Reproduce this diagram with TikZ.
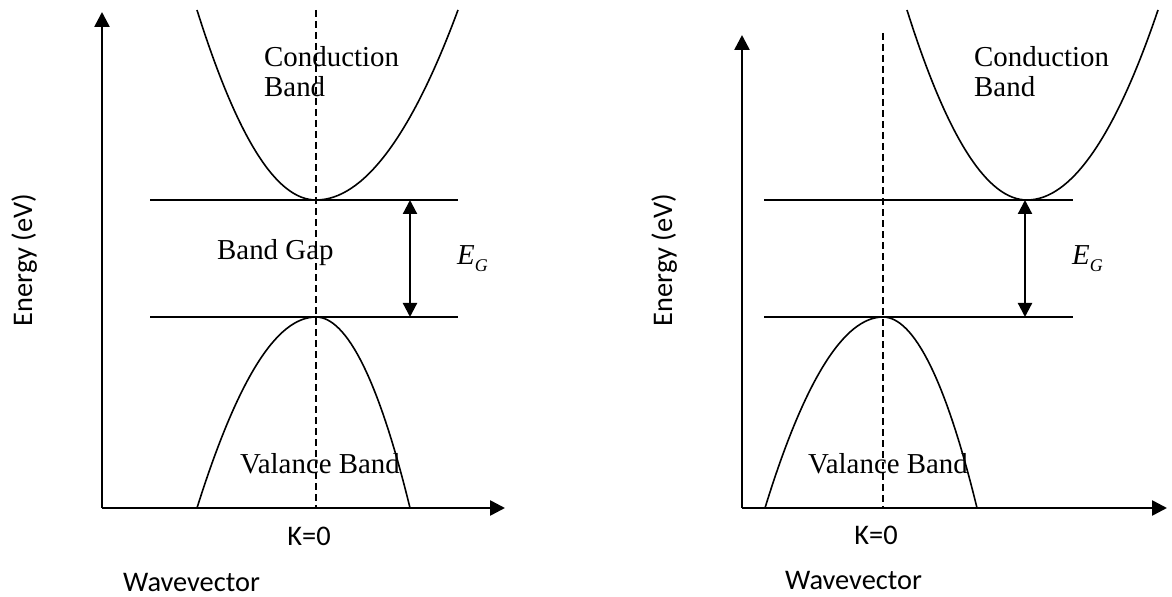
\documentclass[tikz,border=0pt]{standalone}
\usepackage{fontspec}
\setmainfont{Liberation Serif}
\newfontfamily\calibfont{Carlito}
\usetikzlibrary{arrows.meta,positioning}

\tikzset{
  axis/.style={line width=2.6bp, -{Triangle[length=15bp,width=15bp]}},
  level/.style={line width=1.6bp},
  band/.style={line width=1.6bp},
  kline/.style={line width=1.6bp, dash pattern=on 7bp off 4bp},
  gaparrow/.style={line width=2.2bp, {Triangle[length=14bp,width=14bp]}-{Triangle[length=14bp,width=14bp]}},
  serif/.style={font=\fontsize{29}{31}\selectfont, align=left},
  sans/.style={font=\calibfont\fontsize{28.5}{32}\selectfont},
}

\newcommand{\egap}{\fontsize{29}{32}\selectfont\itshape E\raisebox{-7bp}{\fontsize{18}{20}\selectfont G}}

\begin{document}
\begin{tikzpicture}[x=1bp,y=-1bp]
    \useasboundingbox (0,0) rectangle (1172,597);

    % Direct gap (left)
    \coordinate (oA) at (102,508);
    \coordinate (yA) at (102,12);
    \coordinate (xA) at (505,508);
    \draw[axis] (oA) -- (yA);
    \draw[axis] (oA) -- (xA);

    \draw[kline] (316,10) -- (316,508);

    \coordinate (cbA) at (316,200);
    \coordinate (vbA) at (316,317);
    \draw[level] (150,200) -- (458,200);
    \draw[level] (150,317) -- (458,317);

    % Conduction band
    \draw[band] (197,10) .. controls (237,137) and (276,200) .. (cbA)
                .. controls (363,200) and (411,137) .. (458,10);
    % Valance band
    \draw[band] (197,508) .. controls (237,381) and (276,317) .. (vbA)
                .. controls (347,317) and (379,381) .. (410,508);

    \coordinate (gtA) at (410,200);
    \coordinate (gbA) at (410,317);
    \draw[gaparrow] (gtA) -- (gbA);

    \node[serif, anchor=base west, inner sep=0pt] (cbtA) at (264,97) {Conduction\\Band};
    \node[serif, anchor=base west, inner sep=0pt] (gapA) at (217,260) {Band Gap};
    \node[serif, anchor=base west, inner sep=0pt] (vbtA) at (240,473) {Valance Band};
    \node[anchor=base west, inner sep=0pt] (egA) at (457,265) {\egap};
    \node[sans, anchor=base] (kA) at (309,545) {K=0};
    \node[sans, anchor=base west, inner sep=0pt] (wA) at (123,591) {Wavevector};
    \node[sans, rotate=90, anchor=base, inner sep=0pt] (eA) at (32,260) {Energy (eV)};

    % Indirect gap (right)
    \coordinate (oB) at (742,508);
    \coordinate (yB) at (742,35);
    \coordinate (xB) at (1167,508);
    \draw[axis] (oB) -- (yB);
    \draw[axis] (oB) -- (xB);

    \draw[kline] (883,33) -- (883,508);

    \coordinate (cbB) at (1027,200);
    \coordinate (vbB) at (883,317);
    \draw[level] (764,200) -- (1073,200);
    \draw[level] (764,317) -- (1073,317);

    % Conduction band
    \draw[band] (907,10) .. controls (947,137) and (987,200) .. (cbB)
                .. controls (1071,200) and (1115,137) .. (1158,10);
    % Valance band
    \draw[band] (765,508) .. controls (804,381) and (844,317) .. (vbB)
                .. controls (914,317) and (946,381) .. (977,508);

    \coordinate (gtB) at (1025,200);
    \coordinate (gbB) at (1025,317);
    \draw[gaparrow] (gtB) -- (gbB);

    \node[serif, anchor=base west, inner sep=0pt] (cbtB) at (974,97) {Conduction\\Band};
    \node[serif, anchor=base west, inner sep=0pt] (vbtB) at (808,473) {Valance Band};
    \node[anchor=base west, inner sep=0pt] (egB) at (1072,265) {\egap};
    \node[sans, anchor=base] (kB) at (876,544) {K=0};
    \node[sans, anchor=base west, inner sep=0pt] (wB) at (785,589) {Wavevector};
    \node[sans, rotate=90, anchor=base, inner sep=0pt] (eB) at (672,260) {Energy (eV)};
\end{tikzpicture}
\end{document}
